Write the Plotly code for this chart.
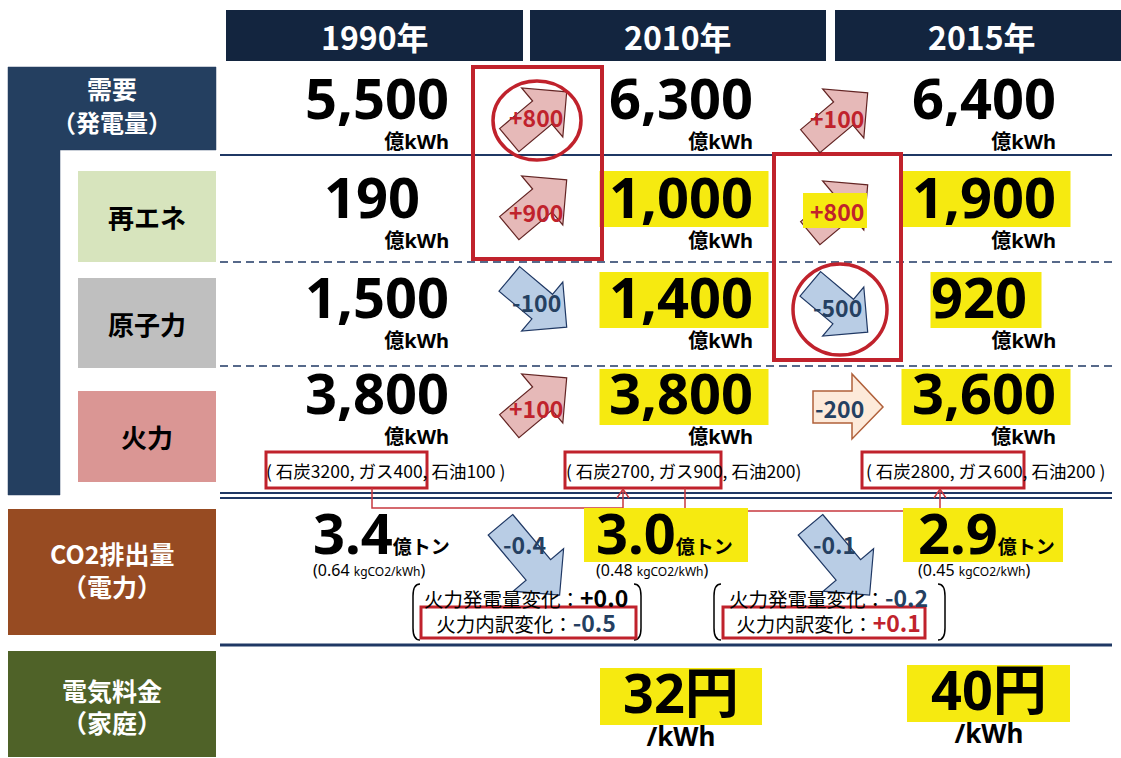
"""Electricity supply, CO2 and price summary: 1990 / 2010 / 2015."""

import math

import plotly.graph_objects as go

# ---- data ----
years = ["1990年", "2010年", "2015年"]
row_labels = ["再エネ", "原子力", "火力"]
demand = [5500, 6300, 6400]
renewables = [190, 1000, 1900]
nuclear = [1500, 1400, 920]
thermal = [3800, 3800, 3600]
demand_change = ["+800", "+100"]
renewables_change = ["+900", "+800"]
nuclear_change = ["-100", "-500"]
thermal_change = ["+100", "-200"]
coal = [3200, 2700, 2800]
gas = [400, 900, 600]
oil = [100, 200, 200]
co2 = ["3.4", "3.0", "2.9"]
co2_intensity = ["0.64", "0.48", "0.45"]
co2_change = ["-0.4", "-0.1"]
thermal_volume_effect = ["+0.0", "-0.2"]
thermal_mix_effect = ["-0.5", "+0.1"]
price = [None, 32, 40]

JP = "Noto Sans CJK JP"
NUM = "Noto Sans, Noto Sans CJK JP"
NAVY = "#1f3864"
HEAD = "#13253f"
RED = "#c0222c"
YELLOW = "#f6ea10"
NEG = "#254061"
NBSP = "\u00a0"

W, H = 1121, 758
col_x = [375, 680, 982]
unit_x = [451, 755, 1058]
row_y = [100, 199, 300, 397]
unit_y = [142, 241, 341, 437]
step_x = [538, 839]
# arrow centre / label height for each change cell
arrow_y = [[116, 117], [204, 209], [303, 308], [402, 407]]
label_y = [[117, 118], [212, 211], [302, 307], [408, 408]]

shapes = []
annotations = []


def rect(x0, y0, x1, y1, fill=None, line=None, lw=0):
    shapes.append(dict(type="rect", xref="x", yref="y", x0=x0, y0=y0, x1=x1, y1=y1,
                       fillcolor=fill or "rgba(0,0,0,0)",
                       line=dict(color=line or "rgba(0,0,0,0)", width=lw)))


def path(d, fill=None, line="black", lw=1.0, dash=None):
    ln = dict(color=line, width=lw)
    if dash:
        ln["dash"] = dash
    shapes.append(dict(type="path", xref="x", yref="y", path=d,
                       fillcolor=fill or "rgba(0,0,0,0)", line=ln))


def text(x, y, s, size, color="black", family=JP, xanchor="center", yanchor="middle",
         align="center"):
    annotations.append(dict(x=x, y=y, xref="x", yref="y", text=s, showarrow=False,
                            xanchor=xanchor, yanchor=yanchor, align=align,
                            font=dict(family=family, size=size, color=color)))


def block_arrow(cx, cy, angle, length, shaft, head_w, head_len, fill, line):
    half = length / 2
    pts = [(-half, -shaft / 2), (half - head_len, -shaft / 2), (half - head_len, -head_w / 2),
           (half, 0), (half - head_len, head_w / 2), (half - head_len, shaft / 2),
           (-half, shaft / 2)]
    a = math.radians(angle)
    ca, sa = math.cos(a), math.sin(a)
    rot = [(cx + px * ca - py * sa, cy + px * sa + py * ca) for px, py in pts]
    d = "M " + " L ".join(f"{x:.1f},{y:.1f}" for x, y in rot) + " Z"
    path(d, fill=fill, line=line, lw=1.2)


def change_arrow(cx, cy, label, big=False):
    up = label.startswith("+")
    length = 92 if big else 75
    head_w = 66 if big else 64
    if up:
        block_arrow(cx, cy, -40, length, 30, head_w, head_w / 2, "#e6b9b8", "#632423")
    else:
        block_arrow(cx, cy, 50 if big else 40, length, 32, head_w, head_w / 2, "#b9cde5", NAVY)


# ---- header and left labels ----
header_x = [(226, 523), (530, 826), (835, 1121)]
for (x0, x1), yr in zip(header_x, years):
    rect(x0, 10, x1, 61, fill=HEAD)
    text((x0 + x1) / 2 if x1 < W else 982, 36, f"<b>{yr}</b>", 32, "white")

path("M 8,67 L 216,67 L 216,150 L 60,150 L 60,495 L 8,495 Z", fill="#243f60", line="#243f60", lw=0.5)
text(112, 88, "<b>需要</b>", 25, "white")
text(112, 121, "<b>（発電量）</b>", 24, "white")

label_boxes = [(171, 262, "#d7e4bd"), (278, 368, "#bfbfbf"), (391, 482, "#da9694")]
for (y0, y1, c), lab in zip(label_boxes, row_labels):
    rect(78, y0, 216, y1, fill=c)
    text(147, (y0 + y1) / 2, f"<b>{lab}</b>", 26)

rect(8, 509, 216, 635, fill="#974b22")
text(112, 553, "<b>CO2排出量</b>", 25, "white")
text(112, 586, "<b>（電力）</b>", 25, "white")
rect(8, 651, 216, 757, fill="#4f6228")
text(112, 690, "<b>電気料金</b>", 25, "white")
text(112, 722, "<b>（家庭）</b>", 25, "white")

# ---- separators ----
path("M 220,155 L 1112,155", line=NAVY, lw=2)
path("M 220,262 L 1112,262", line=NAVY, lw=1.5, dash="8px,5px")
path("M 220,366 L 1112,366", line=NAVY, lw=1.5, dash="8px,5px")
path("M 220,493 L 1112,493", line=NAVY, lw=2)
path("M 220,498 L 1112,498", line=NAVY, lw=2)
path("M 220,645 L 1112,645", line=NAVY, lw=3)

# ---- generation rows: number with its unit underneath, right aligned ----
rows = [demand, renewables, nuclear, thermal]
for r, vals in enumerate(rows):
    for c, v in enumerate(vals):
        s = f"{v:,}"
        if r > 0 and c > 0:
            half = 12 + 14.5 * len(s)
            rect(col_x[c] - half + 4, row_y[r] - 28, col_x[c] + half + 4, row_y[r] + 28, fill=YELLOW)
        pad = NBSP * 2 if len(s) == 3 else ""
        label = (f"<span style='font-size:56px'><b>{s}{pad}</b></span><br>"
                 f"<span style='font-size:20px'><b>億kWh</b></span>")
        text(unit_x[c], unit_y[r] + 15, label, 23, family=NUM,
             xanchor="right", yanchor="bottom", align="right")

# change arrows between columns
changes = [demand_change, renewables_change, nuclear_change, thermal_change]
red_frames = [(473, 67, 602, 259), (774, 154, 901, 360)]
for x0, y0, x1, y1 in red_frames:
    rect(x0, y0, x1, y1, line=RED, lw=4)
for r, chg in enumerate(changes):
    for c, lab in enumerate(chg):
        cx = step_x[c]
        color = RED if lab.startswith("+") else NEG
        if r == 3 and c == 1:
            # flat right arrow for the small thermal decrease
            path("M 813,391 L 852,391 L 852,374 L 883,407 L 852,439 L 852,423 L 813,423 Z",
                 fill="#fdeada", line="#b0603a", lw=1.5)
            text(839, label_y[r][c], f"<b>{lab}</b>", 23, NEG)
            continue
        change_arrow(cx, arrow_y[r][c], lab)
        if r == 1 and c == 1:
            rect(803, 193, 867, 228, fill=YELLOW)
        text(cx - 2, label_y[r][c], f"<b>{lab}</b>", 23, color)

shapes.append(dict(type="circle", xref="x", yref="y", x0=493, y0=81, x1=581, y1=160,
                   line=dict(color=RED, width=3.5)))
shapes.append(dict(type="circle", xref="x", yref="y", x0=793, y0=264, x1=887, y1=355,
                   line=dict(color=RED, width=3.5)))

# fuel breakdown of thermal power
fuel_x = [385, 683, 985]
fuel_boxes = [(266, 427), (565, 721), (862, 1024)]
for c in range(3):
    close = " )" if c != 1 else ")"
    s = f"( 石炭{coal[c]}, ガス{gas[c]}, 石油{oil[c]}{close}"
    text(fuel_x[c], 470, s, 17.5)
    rect(fuel_boxes[c][0], 452, fuel_boxes[c][1], 488, line=RED, lw=3)
path("M 372,488 L 372,508 L 623,508 L 623,490", line="#c8383f", lw=1.5)
path("M 617,498 L 623,489 L 629,498", line="#c8383f", lw=1.5)
path("M 685,488 L 685,511 L 940,511 L 940,490", line="#c8383f", lw=1.5)
path("M 934,498 L 940,489 L 946,498", line="#c8383f", lw=1.5)

# ---- CO2 row ----
co2_left = [311, 594, 916]
co2_box = [None, (584, 748), (903, 1063)]
for c in range(3):
    if co2_box[c]:
        rect(co2_box[c][0], 508, co2_box[c][1], 562, fill=YELLOW)
    label = (f"<span style='font-size:56px'><b>{co2[c]}</b></span>"
             f"<span style='font-size:19px'><b>億トン</b></span><br>"
             f"<span style='font-size:16px'>({co2_intensity[c]} </span>"
             f"<span style='font-size:12px'>kgCO2/kWh</span>"
             f"<span style='font-size:16px'>)</span>")
    text(co2_left[c], 583, label, 17, family=NUM, xanchor="left", yanchor="bottom", align="left")

for c, lab in enumerate(co2_change):
    cx = [530, 840][c]
    change_arrow(cx, 560, lab, big=True)
    text(cx - 6, 544, f"<b>{lab}</b>", 23, NEG)

brackets = [(413, 641), (714, 945)]
inner_boxes = [(421, 636), (723, 925)]
for c in range(2):
    x0, x1 = brackets[c]
    path(f"M {x0 + 7},584 Q {x0},584 {x0},596 L {x0},628 Q {x0},640 {x0 + 7},640", lw=1.5)
    path(f"M {x1 - 7},584 Q {x1},584 {x1},596 L {x1},628 Q {x1},640 {x1 - 7},640", lw=1.5)
    rect(inner_boxes[c][0], 607, inner_boxes[c][1], 638, line=RED, lw=3)
    v1 = thermal_volume_effect[c]
    v2 = thermal_mix_effect[c]
    c1 = "black" if v1 == "+0.0" else NEG
    c2 = RED if v2.startswith("+") else NEG
    mid = (x0 + x1) / 2
    label = (f"火力発電量変化：<span style='font-size:23px;color:{c1}'><b>{v1}</b></span><br>"
             f"火力内訳変化：<span style='font-size:23px;color:{c2}'><b>{v2}</b></span>")
    text(mid - 1, 609, label, 19.5)

# ---- price row ----
price_boxes = [None, (600, 668, 762, 725), (907, 665, 1070, 722)]
for c in range(3):
    if price[c] is None:
        continue
    x0, y0, x1, y1 = price_boxes[c]
    rect(x0, y0, x1, y1, fill=YELLOW)
    label = (f"<span style='font-size:54px'><b>{price[c]}円</b></span><br>"
             f"<span style='font-size:26px'><b>/kWh</b></span>")
    text((x0 + x1) / 2, y1 + 31, label, 25, family=NUM, yanchor="bottom")

fig = go.Figure()
fig.update_layout(
    width=W, height=H,
    margin=dict(l=0, r=0, t=0, b=0),
    paper_bgcolor="white", plot_bgcolor="white",
    xaxis=dict(range=[0, W], visible=False, fixedrange=True),
    yaxis=dict(range=[H, 0], visible=False, fixedrange=True),
    shapes=shapes, annotations=annotations, showlegend=False,
)
fig.write_html("out.html", config={"displayModeBar": False},
               post_script="document.body.style.margin='0';")
